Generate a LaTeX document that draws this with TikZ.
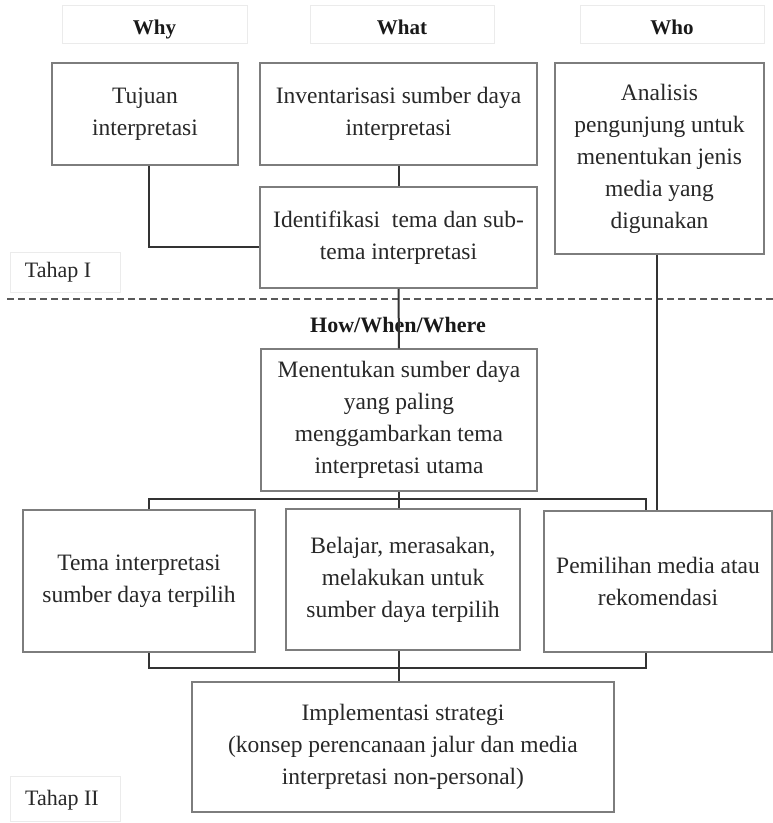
\documentclass[tikz,border=0pt]{standalone}
\usepackage{fontspec}
\setmainfont{Liberation Serif}
\definecolor{boxgray}{RGB}{125,125,125}
\definecolor{txt}{RGB}{40,40,40}
\definecolor{faintgray}{RGB}{235,235,235}
\tikzset{
  box/.style={draw=boxgray, line width=1.5pt, fill=white, align=center, inner sep=0pt,
    font=\fontsize{23.5}{32}\selectfont, text=txt},
  faint/.style={draw=faintgray, line width=1pt, inner sep=0pt},
  hdr/.style={font=\bfseries\fontsize{21}{25}\selectfont, text=black!90, anchor=base},
  stage/.style={font=\fontsize{22}{26}\selectfont, text=txt},
  conn/.style={draw=black!80, line width=2pt},
  sepline/.style={draw=black!65, line width=2pt, dash pattern=on 7pt off 4pt}
}
\begin{document}
\begin{tikzpicture}[x=1pt,y=-1pt]
\useasboundingbox[fill=white] (0,0) rectangle (773,823);

% headers
\node[faint, minimum width=185, minimum height=38] (fwhy) at (154.5,24) {};
\node[hdr] (hwhy) at (154.5,34) {Why};
\node[faint, minimum width=184, minimum height=38] (fwhat) at (402,24) {};
\node[hdr] (hwhat) at (402,34) {What};
\node[faint, minimum width=184, minimum height=38] (fwho) at (672,24) {};
\node[hdr] (hwho) at (672,34) {Who};

% stage I boxes
\node[box, minimum width=186, minimum height=102] (tuj) at (145,114) {Tujuan\\interpretasi};
\node[box, minimum width=277, minimum height=102] (inv) at (398.5,114) {Inventarisasi sumber daya\\interpretasi};
\node[box, minimum width=277, minimum height=101] (idn) at (398.5,237.5) {Identifikasi\ \ tema dan sub-\\tema interpretasi};
\node[box, minimum width=209, minimum height=191] (ana) at (659.5,158.5) {Analisis\\pengunjung untuk\\menentukan jenis\\media yang\\digunakan};

\node[faint, minimum width=110, minimum height=40] (ft1) at (65,272) {};
\node[stage] (tahap1) at (58,272) {Tahap I};

% separator
\coordinate (dl) at (7,299);
\coordinate (dr) at (773,299);
\draw[sepline] (dl) -- (dr);

\node[font=\bfseries\fontsize{22}{26}\selectfont, text=black!90] (how) at (398,325) {How/When/Where};

% stage II boxes
\node[box, minimum width=276, minimum height=142] (men) at (399,420) {Menentukan sumber daya\\yang paling\\menggambarkan tema\\interpretasi utama};
\node[box, minimum width=232, minimum height=142] (tem) at (139,581) {Tema interpretasi\\sumber daya terpilih};
\node[box, minimum width=234, minimum height=141] (bel) at (403,579.5) {Belajar, merasakan,\\melakukan untuk\\sumber daya terpilih};
\node[box, minimum width=228, minimum height=141] (pem) at (658,581.5) {Pemilihan media atau\\rekomendasi};
\node[box, minimum width=422, minimum height=130] (imp) at (403,747) {Implementasi strategi\\(konsep perencanaan jalur dan media\\interpretasi non-personal)};

\node[faint, minimum width=110, minimum height=45] (ft2) at (65,799) {};
\node[stage] (tahap2) at (62,800) {Tahap II};

% connectors
\coordinate (tj) at (149,247);
\draw[conn] (tuj.south -| tj) -- (tj) -- (tj -| idn.west);
\draw[conn] (inv.south) -- (idn.north);
\draw[conn] (idn.south) -- (men.north);
\coordinate (whoX) at (657,0);
\draw[conn] (ana.south -| whoX) -- (pem.north -| whoX);

\coordinate (busL) at (149,499);
\coordinate (busR) at (646,499);
\draw[conn] (tem.north -| busL) -- (busL) -- (busR) -- (pem.north -| busR);
\draw[conn] (men.south) -- (bel.north -| men.south);

\coordinate (lbL) at (149,668);
\coordinate (lbR) at (646,668);
\draw[conn] (tem.south -| lbL) -- (lbL) -- (lbR) -- (pem.south -| lbR);
\draw[conn] (bel.south -| men.south) -- (imp.north -| men.south);
\end{tikzpicture}
\end{document}
